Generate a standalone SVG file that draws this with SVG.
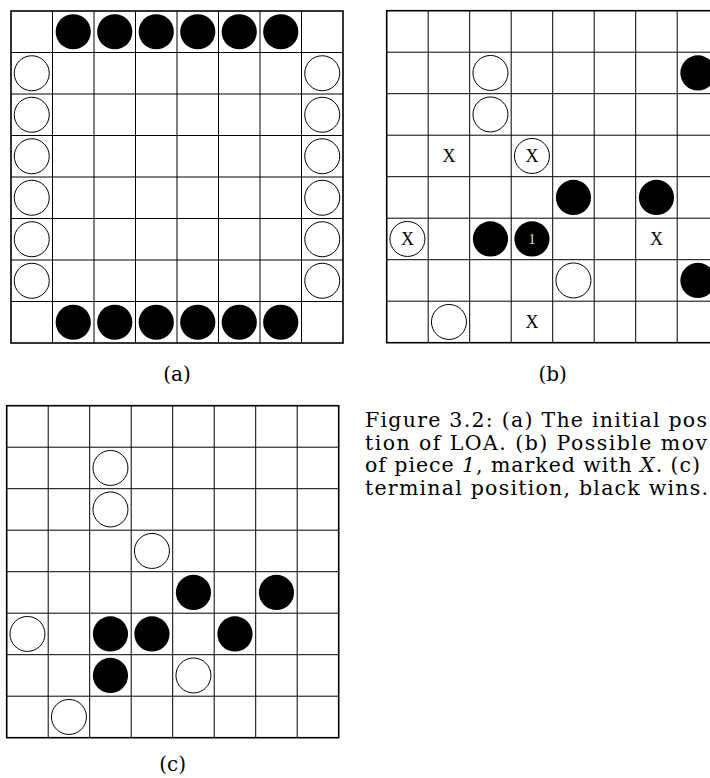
<svg xmlns="http://www.w3.org/2000/svg" xmlns:xlink="http://www.w3.org/1999/xlink" width="710" height="778" viewBox="0 0 710 778">
  <style>
    .grid { fill: none; stroke: #000; stroke-width: 1; }
    .border { fill: none; stroke: #000; stroke-width: 1.6; }
    .w { fill: #fff; stroke: #000; stroke-width: 1; }
    .b { fill: #000; stroke: none; }
    .mark { font-family: "Liberation Serif", "DejaVu Serif", serif; font-size: 18px; text-anchor: middle; dominant-baseline: central; fill: #000; }
    .label { font-family: "DejaVu Serif", "Liberation Serif", serif; font-size: 20px; text-anchor: middle; fill: #000; }
    .cap { font-family: "DejaVu Serif", "Liberation Serif", serif; font-size: 20.5px; fill: #000; }
  </style>
  <defs>
    <g id="board">
      <rect x="0" y="0" width="332" height="332" fill="#fff"/>
      <path class="grid" d="M41.5 0V332M83 0V332M124.5 0V332M166 0V332M207.5 0V332M249 0V332M290.5 0V332M0 41.5H332M0 83H332M0 124.5H332M0 166H332M0 207.5H332M0 249H332M0 290.5H332"/>
      <rect class="border" x="0" y="0" width="332" height="332"/>
    </g>
    <circle id="wp" class="w" r="17.5"/>
    <circle id="bp" class="b" r="17.6"/>
  </defs>

  <g id="board-a" transform="translate(11,11)">
    <use xlink:href="#board"/>
    <g id="a-black">
      <use xlink:href="#bp" x="62.25" y="20.75"/><use xlink:href="#bp" x="103.75" y="20.75"/><use xlink:href="#bp" x="145.25" y="20.75"/><use xlink:href="#bp" x="186.75" y="20.75"/><use xlink:href="#bp" x="228.25" y="20.75"/><use xlink:href="#bp" x="269.75" y="20.75"/>
      <use xlink:href="#bp" x="62.25" y="311.25"/><use xlink:href="#bp" x="103.75" y="311.25"/><use xlink:href="#bp" x="145.25" y="311.25"/><use xlink:href="#bp" x="186.75" y="311.25"/><use xlink:href="#bp" x="228.25" y="311.25"/><use xlink:href="#bp" x="269.75" y="311.25"/>
    </g>
    <g id="a-white">
      <use xlink:href="#wp" x="20.75" y="62.25"/><use xlink:href="#wp" x="20.75" y="103.75"/><use xlink:href="#wp" x="20.75" y="145.25"/><use xlink:href="#wp" x="20.75" y="186.75"/><use xlink:href="#wp" x="20.75" y="228.25"/><use xlink:href="#wp" x="20.75" y="269.75"/>
      <use xlink:href="#wp" x="311.25" y="62.25"/><use xlink:href="#wp" x="311.25" y="103.75"/><use xlink:href="#wp" x="311.25" y="145.25"/><use xlink:href="#wp" x="311.25" y="186.75"/><use xlink:href="#wp" x="311.25" y="228.25"/><use xlink:href="#wp" x="311.25" y="269.75"/>
    </g>
  </g>
  <text id="label-a" class="label" x="177" y="381">(a)</text>

  <g id="board-b" transform="translate(386.7,10.7)">
    <use xlink:href="#board"/>
    <g id="b-white">
      <use xlink:href="#wp" x="103.75" y="62.25"/>
      <use xlink:href="#wp" x="103.75" y="103.75"/>
      <use xlink:href="#wp" x="145.25" y="145.25"/>
      <use xlink:href="#wp" x="20.75" y="228.25"/>
      <use xlink:href="#wp" x="186.75" y="269.75"/>
      <use xlink:href="#wp" x="62.25" y="311.25"/>
    </g>
    <g id="b-black">
      <use xlink:href="#bp" x="311.25" y="62.25"/>
      <use xlink:href="#bp" x="186.75" y="186.75"/>
      <use xlink:href="#bp" x="269.75" y="186.75"/>
      <use xlink:href="#bp" x="103.75" y="228.25"/>
      <use xlink:href="#bp" x="145.25" y="228.25"/>
      <use xlink:href="#bp" x="311.25" y="269.75"/>
    </g>
    <g id="b-marks">
      <text class="mark" x="62.25" y="145.25">X</text>
      <text class="mark" x="145.25" y="145.25">X</text>
      <text class="mark" x="20.75" y="228.25">X</text>
      <text class="mark" x="269.75" y="228.25">X</text>
      <text class="mark" x="145.25" y="311.25">X</text>
      <text class="mark" x="145.25" y="228.25" style="fill:#ddd;font-size:15px">1</text>
    </g>
  </g>
  <text id="label-b" class="label" x="552.7" y="381">(b)</text>

  <g id="board-c" transform="translate(6.7,405.7)">
    <use xlink:href="#board"/>
    <g id="c-white">
      <use xlink:href="#wp" x="103.75" y="62.25"/>
      <use xlink:href="#wp" x="103.75" y="103.75"/>
      <use xlink:href="#wp" x="145.25" y="145.25"/>
      <use xlink:href="#wp" x="20.75" y="228.25"/>
      <use xlink:href="#wp" x="186.75" y="269.75"/>
      <use xlink:href="#wp" x="62.25" y="311.25"/>
    </g>
    <g id="c-black">
      <use xlink:href="#bp" x="186.75" y="186.75"/>
      <use xlink:href="#bp" x="269.75" y="186.75"/>
      <use xlink:href="#bp" x="103.75" y="228.25"/>
      <use xlink:href="#bp" x="145.25" y="228.25"/>
      <use xlink:href="#bp" x="228.25" y="228.25"/>
      <use xlink:href="#bp" x="103.75" y="269.75"/>
    </g>
  </g>
  <text id="label-c" class="label" x="172.7" y="771">(c)</text>

  <g id="caption" class="cap">
    <text x="365" y="427" textLength="342" lengthAdjust="spacing">Figure 3.2: (a) The initial pos</text>
    <text x="365" y="449.5" textLength="342" lengthAdjust="spacing">tion of LOA. (b) Possible mov</text>
    <text x="365" y="472" textLength="335" lengthAdjust="spacing">of piece <tspan font-style="italic">1</tspan>, marked with <tspan font-style="italic">X</tspan>. (c)</text>
    <text x="365" y="494.5" textLength="343" lengthAdjust="spacing">terminal position, black wins.</text>
  </g>
</svg>
